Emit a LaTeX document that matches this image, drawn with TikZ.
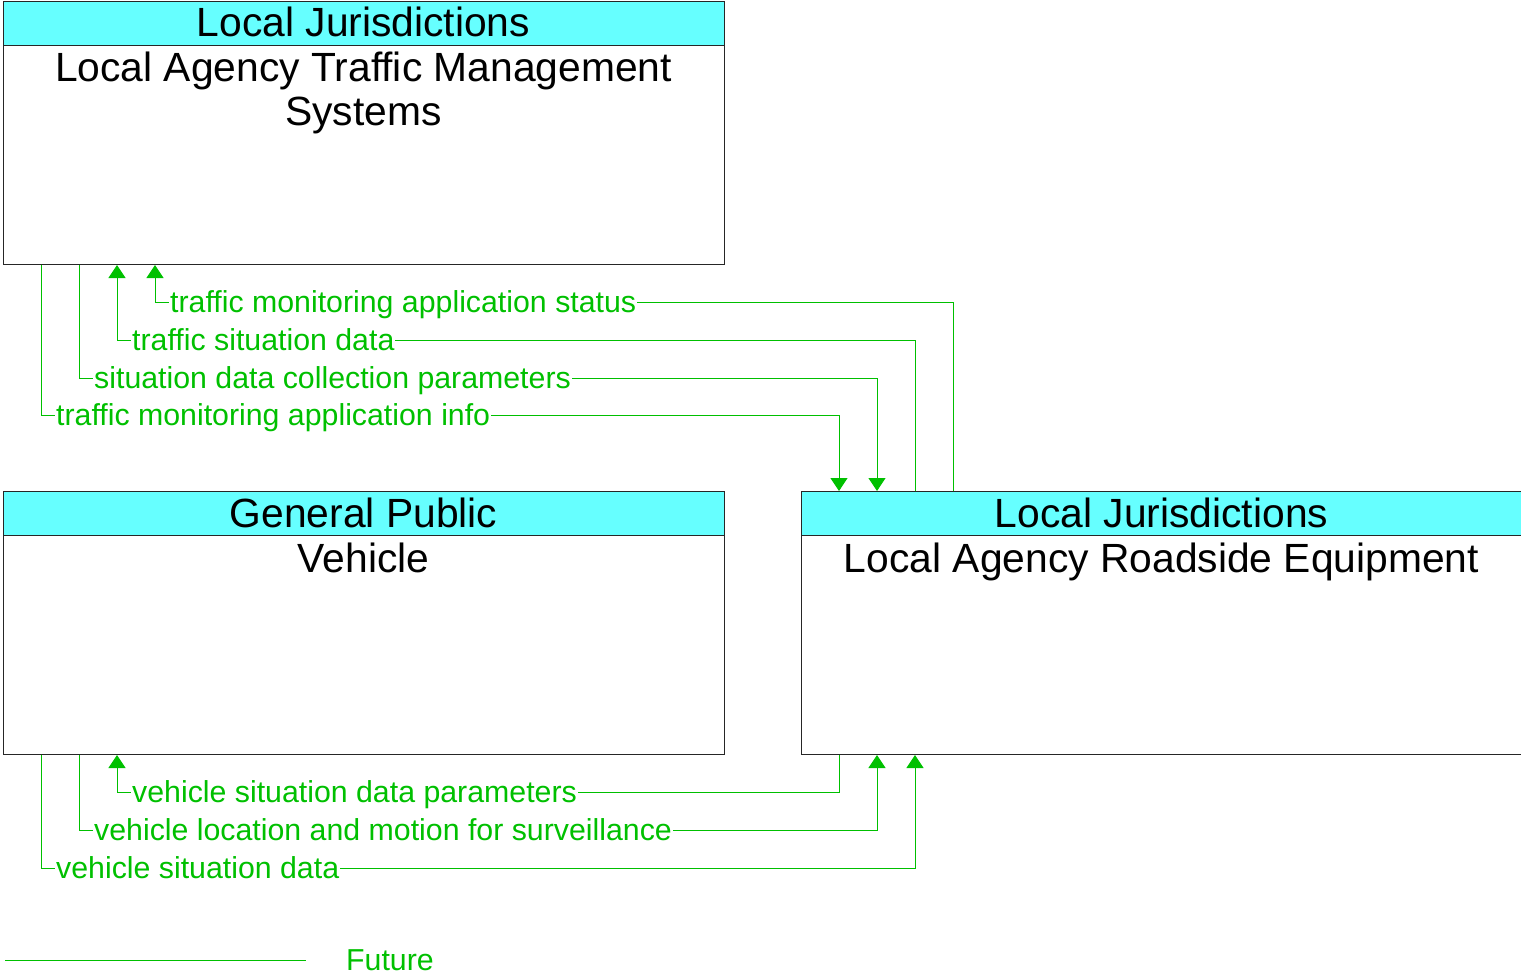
\documentclass[tikz,border=0pt]{standalone}
\usepackage{fontspec}
\setmainfont{Liberation Sans}
\usetikzlibrary{arrows.meta}
\definecolor{flowgreen}{RGB}{0,192,0}
\definecolor{hdrcyan}{RGB}{102,255,255}
\tikzset{
  box/.style={draw=black!85, line width=1pt, fill=white, inner sep=0pt, anchor=north west, minimum width=721pt, minimum height=263pt},
  hdr/.style={draw=black!85, line width=1pt, fill=hdrcyan, inner sep=0pt, anchor=north west, minimum width=721pt, minimum height=44pt},
  bigtext/.style={font=\fontsize{40.8}{44}\selectfont, anchor=base, inner sep=0pt},
  flow/.style={draw=flowgreen, line width=1pt},
  flowarrow/.style={flow, -{Triangle[width=17pt,length=13pt]}},
  lbl/.style={font=\fontsize{30.3}{32}\selectfont, text=flowgreen, fill=white, inner sep=1pt, anchor=base west},
}
\begin{document}
\begin{tikzpicture}[x=1pt,y=-1pt]
\useasboundingbox (0,0) rectangle (1521,975);
% boxes
\node[box] (tms) at (3,1) {};
\node[hdr] (tmsh) at (3,1) {};
\node[bigtext] (tmsht) at (363.5,36) {Local Jurisdictions};
\node[bigtext] (tmst1) at (363.5,81) {Local Agency Traffic Management};
\node[bigtext] (tmst2) at (363.5,125) {Systems};

\node[box] (veh) at (3,491) {};
\node[hdr] (vehh) at (3,491) {};
\node[bigtext] (vehht) at (363.5,527) {General Public};
\node[bigtext] (veht) at (363.5,572) {Vehicle};

\node[box] (rse) at (801,491) {};
\node[hdr] (rseh) at (801,491) {};
\node[bigtext] (rseht) at (1161.5,527) {Local Jurisdictions};
\node[bigtext] (rset) at (1161.5,572) {Local Agency Roadside Equipment};

% top flows
\draw[flowarrow] ([xshift=152pt]rse.north west) -- ++(0,-189) -- (155,302) -- ([xshift=152pt]tms.south west);
\node[lbl] (l1) at (169,312) {traffic monitoring application status};
\draw[flowarrow] ([xshift=114pt]rse.north west) -- ++(0,-151) -- (117,340) -- ([xshift=114pt]tms.south west);
\node[lbl] (l2) at (131,350) {traffic situation data};
\draw[flowarrow] ([xshift=76pt]tms.south west) -- (79,378) -- (877,378) -- ([xshift=76pt]rse.north west);
\node[lbl] (l3) at (93,388) {situation data collection parameters};
\draw[flowarrow] ([xshift=38pt]tms.south west) -- (41,415) -- (839,415) -- ([xshift=38pt]rse.north west);
\node[lbl] (l4) at (55,425) {traffic monitoring application info};

% bottom flows
\draw[flowarrow] ([xshift=38pt]rse.south west) -- (839,792) -- (117,792) -- ([xshift=114pt]veh.south west);
\node[lbl] (l5) at (131,802) {vehicle situation data parameters};
\draw[flowarrow] ([xshift=76pt]veh.south west) -- (79,830) -- (877,830) -- ([xshift=76pt]rse.south west);
\node[lbl] (l6) at (93,840) {vehicle location and motion for surveillance};
\draw[flowarrow] ([xshift=38pt]veh.south west) -- (41,868) -- (915,868) -- ([xshift=114pt]rse.south west);
\node[lbl] (l7) at (55,878) {vehicle situation data};

% legend
\coordinate (lega) at (5,960);
\coordinate (legb) at (306,960);
\draw[flow] (lega) -- (legb);
\node[lbl, fill=none] (legt) at (345,970) {Future};
\end{tikzpicture}
\end{document}
